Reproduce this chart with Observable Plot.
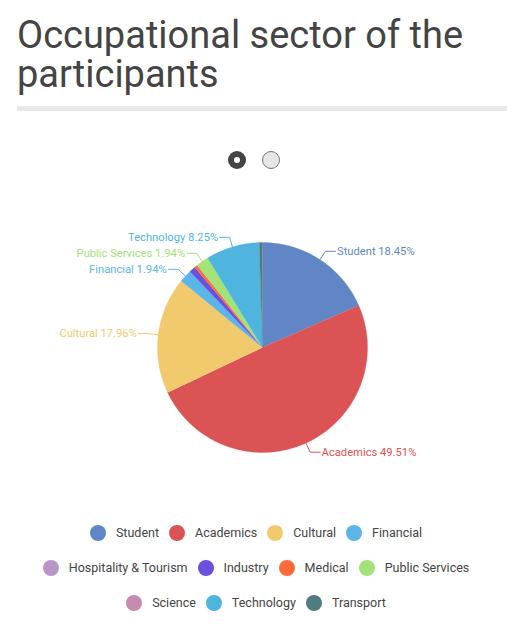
<!DOCTYPE html>
<html>
<head>
<meta charset="utf-8">
<script src="https://cdn.jsdelivr.net/npm/d3@7"></script>
<script src="https://cdn.jsdelivr.net/npm/@observablehq/plot@0.6"></script>
<style>
  html, body { margin: 0; padding: 0; background: #fff; width: 522px; height: 636px; overflow: hidden; font-family: Roboto, "Noto Sans", sans-serif; }
  #title { position: absolute; left: 17px; top: 16px; width: 495px; font-size: 38px; line-height: 39px; color: #444; font-weight: 400; }
  #rule { position: absolute; left: 17px; top: 106px; width: 490px; height: 5px; background: #e8e8e8; }
  .dot { position: absolute; top: 151px; width: 18px; height: 18px; border-radius: 50%; box-sizing: border-box; }
  #dot1 { left: 228px; background: #444; }
  #dot1::after { content: ""; position: absolute; left: 6px; top: 6px; width: 6px; height: 6px; border-radius: 50%; background: #fff; }
  #dot2 { left: 262px; background: #e6e6e6; border: 1px solid #777; }
  #chart { position: absolute; left: 0; top: 180px; }
  #legend { position: absolute; left: 0; top: 515px; width: 522px; }
  .row { display: flex; justify-content: center; align-items: center; height: 35px; }
  .item { display: inline-flex; align-items: center; margin: 0 10px 0 0; font-size: 12.5px; color: #444; }
  .sw { width: 16px; height: 16px; border-radius: 50%; margin-right: 10px; }
</style>
</head>
<body>
<div id="title">Occupational sector of the participants</div>
<div id="rule"></div>
<div class="dot" id="dot1"></div>
<div class="dot" id="dot2"></div>
<div id="chart"></div>
<div id="legend"></div>
<script>
const categories = ["Student", "Academics", "Cultural", "Financial", "Hospitality & Tourism", "Industry", "Medical", "Public Services", "Science", "Technology", "Transport"];
const values = [18.45, 49.51, 17.96, 1.94, 0, 0.97, 0.49, 1.94, 0, 8.25, 0.49];
const colors = ["#6186c5", "#dc5356", "#f0ca6c", "#5bb5e6", "#b795c8", "#6c4fdc", "#fe6b3b", "#a2e276", "#c68ab0", "#4fb5df", "#507b7f"];
const legendRows = [[0, 1, 2, 3], [4, 5, 6, 7], [8, 9, 10]];

const data = categories.map((name, i) => ({name, value: values[i], color: colors[i]}));
const R = 105;
const arcs = d3.pie().sort(null).value(d => d.value)(data);

// sector outlines
const sectors = [];
arcs.forEach(a => {
  if (a.data.value <= 0) return;
  const n = Math.max(2, Math.ceil((a.endAngle - a.startAngle) / (Math.PI / 360)));
  sectors.push({key: a.data.name, color: a.data.color, x: 0, y: 0});
  for (let k = 0; k <= n; k++) {
    const t = a.startAngle + (a.endAngle - a.startAngle) * k / n;
    sectors.push({key: a.data.name, color: a.data.color, x: R * Math.sin(t), y: R * Math.cos(t)});
  }
});

// label leader lines and texts
const leaders = [];
const labels = [];
arcs.forEach(a => {
  if (a.data.value < 1.5) return;
  const m = (a.startAngle + a.endAngle) / 2;
  const side = Math.sin(m) >= 0 ? 1 : -1;
  const p0 = [R * Math.sin(m), R * Math.cos(m)];
  const p1 = [(R + 10) * Math.sin(m), (R + 10) * Math.cos(m)];
  const p2 = [p1[0] + side * 10, p1[1]];
  [p0, p1, p2].forEach(p => leaders.push({key: a.data.name, color: a.data.color, x: p[0], y: p[1]}));
  labels.push({text: `${a.data.name} ${a.data.value.toFixed(2)}%`, color: a.data.color, x: p2[0] + side * 1.5, y: p2[1], anchor: side > 0 ? "start" : "end"});
});

const plot = Plot.plot({
  width: 522,
  height: 320,
  margin: 0,
  x: {domain: [-262, 260], axis: null},
  y: {domain: [-153, 167], axis: null},
  style: {background: "transparent", fontFamily: "Roboto, sans-serif", overflow: "visible"},
  marks: [
    Plot.line(sectors, {x: "x", y: "y", z: "key", fill: "color", stroke: "color", strokeWidth: 0.3, curve: "linear"}),
    Plot.line(leaders, {x: "x", y: "y", z: "key", stroke: "color", strokeWidth: 1}),
    Plot.text(labels.filter(d => d.anchor === "start"), {x: "x", y: "y", text: "text", fill: "color", textAnchor: "start", fontSize: 11.2}),
    Plot.text(labels.filter(d => d.anchor === "end"), {x: "x", y: "y", text: "text", fill: "color", textAnchor: "end", fontSize: 11.2})
  ]
});
document.getElementById("chart").appendChild(plot);

const legend = document.getElementById("legend");
legendRows.forEach(row => {
  const r = document.createElement("div");
  r.className = "row";
  row.forEach(i => {
    const it = document.createElement("span");
    it.className = "item";
    const sw = document.createElement("span");
    sw.className = "sw";
    sw.style.background = colors[i];
    it.appendChild(sw);
    it.appendChild(document.createTextNode(categories[i]));
    r.appendChild(it);
  });
  legend.appendChild(r);
});
</script>
</body>
</html>
